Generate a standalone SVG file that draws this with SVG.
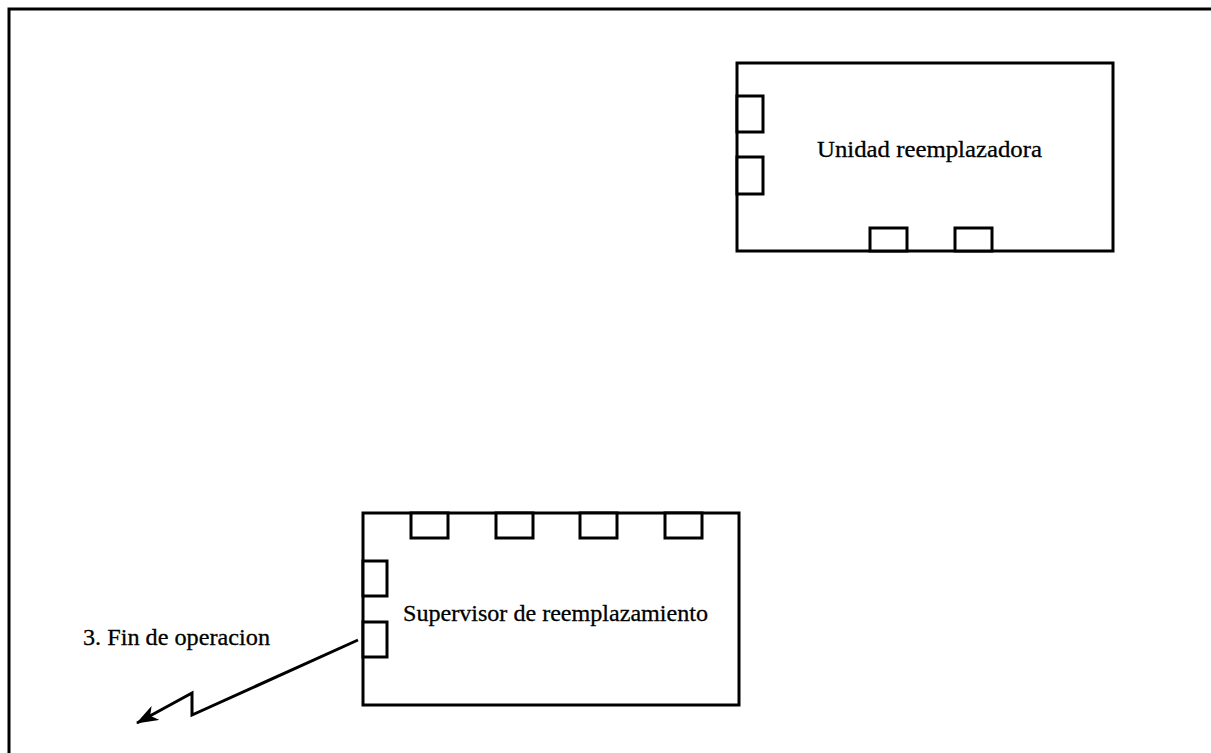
<svg xmlns="http://www.w3.org/2000/svg" width="1211" height="753" viewBox="0 0 1211 753">
  <style>
    .box { fill: #ffffff; stroke: #000000; stroke-width: 3; stroke-linejoin: miter; }
    .port { fill: #ffffff; stroke: #000000; stroke-width: 3; }
    .label { font-family: "Liberation Serif", "Times New Roman", serif; font-size: 24px; fill: #000000; stroke: #000000; stroke-width: 0.3; }
    .link { fill: none; stroke: #000000; stroke-width: 3; stroke-linejoin: miter; }
  </style>
  <defs>
    <marker id="barb" viewBox="0 0 22 16" refX="21" refY="8" markerWidth="22" markerHeight="16" markerUnits="userSpaceOnUse" orient="auto">
      <path d="M0,0 L22,8 L0,16 L6,8 Z" fill="#000000"/>
    </marker>
  </defs>

  <rect width="1211" height="753" fill="#ffffff"/>

  <!-- page frame, open to the right and bottom -->
  <path d="M9,760 V9 H1220" fill="none" stroke="#000000" stroke-width="3"/>

  <!-- replacing unit -->
  <g id="unidad-reemplazadora">
    <rect class="box" x="737" y="63" width="376" height="188"/>
    <rect class="port" x="737" y="96" width="26" height="36"/>
    <rect class="port" x="737" y="157" width="26" height="37"/>
    <rect class="port" x="870" y="228" width="37" height="23"/>
    <rect class="port" x="955" y="228" width="37" height="23"/>
    <text class="label" x="817" y="157" textLength="225" lengthAdjust="spacingAndGlyphs">Unidad reemplazadora</text>
  </g>

  <!-- replacement supervisor -->
  <g id="supervisor-reemplazamiento">
    <rect class="box" x="363" y="513" width="376" height="192"/>
    <rect class="port" x="411" y="513" width="37" height="25"/>
    <rect class="port" x="496" y="513" width="37" height="25"/>
    <rect class="port" x="580" y="513" width="37" height="25"/>
    <rect class="port" x="665" y="513" width="37" height="25"/>
    <rect class="port" x="363" y="561" width="24" height="35"/>
    <rect class="port" x="363" y="622" width="24" height="35"/>
    <text class="label" x="403" y="621" textLength="305" lengthAdjust="spacingAndGlyphs">Supervisor de reemplazamiento</text>
  </g>

  <!-- outgoing signal -->
  <g id="connectors">
    <path class="link" d="M358,640 L192,715 L192,693 L137,723" marker-end="url(#barb)"/>
    <text class="label" x="83" y="645" textLength="187" lengthAdjust="spacingAndGlyphs">3. Fin de operacion</text>
  </g>
</svg>
